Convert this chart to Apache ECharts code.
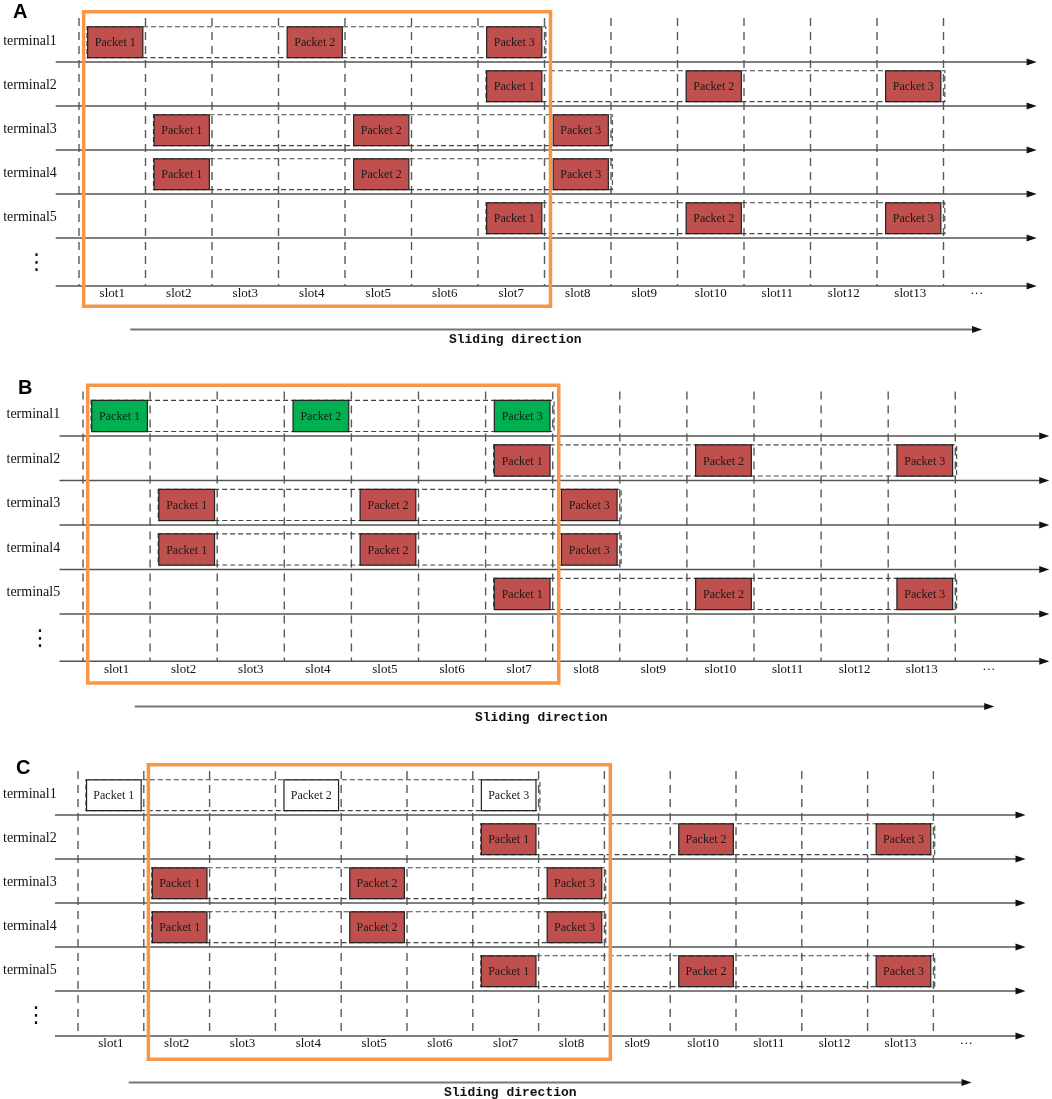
<!DOCTYPE html>
<html>
<head>
<meta charset="utf-8">
<title>Sliding window over slots</title>
<script src="https://cdn.jsdelivr.net/npm/echarts@6/dist/echarts.min.js"></script>
<style>
  html, body { margin: 0; padding: 0; background: #fff; }
  #chart { width: 1052px; height: 1099px; }
</style>
</head>
<body>
<div id="chart"></div>
<script>
// tick labels under the slot axis (last one is the "more" mark)
const slotLabels = ['slot1', 'slot2', 'slot3', 'slot4', 'slot5', 'slot6', 'slot7',
  'slot8', 'slot9', 'slot10', 'slot11', 'slot12', 'slot13', '···']
const terminals = ['terminal1', 'terminal2', 'terminal3', 'terminal4', 'terminal5']
const moreRows = '⋮'
// slot of Packet 1, Packet 2, Packet 3 for each terminal
const packetSlots = [
  [1, 4, 7],
  [7, 10, 13],
  [2, 5, 8],
  [2, 5, 8],
  [7, 10, 13]
]
const panelNames = ['A', 'B', 'C']
// sliding window: first and last slot it covers
const windowFirst = [1, 1, 2]
const windowLast = [7, 7, 8]
// fill of terminal1 packets in each panel, other terminals are red
const terminal1Fill = ['#c0504d', '#00b050', '#ffffff']
const packetFill = '#c0504d'
const slotBoundaries = [0, 1, 2, 3, 4, 5, 6, 7, 8, 9, 10, 11, 12, 13]
const rowLines = [1, 2, 3, 4, 5]
const slidingText = 'Sliding direction'

// panel layout: pixel of slot boundary 0 / top of row 1, px per slot / per row
const panels = [
  { x0: 79, ux: 66.5, y0: 18, uy: 44, top: 0, bottom: 350, axisY: 6.09, textX: 6.56, letter: [13, 2] },
  { x0: 83, ux: 67.1, y0: 391.5, uy: 44.5, top: 350, bottom: 735, axisY: 6.06, textX: 6.83, letter: [18, 378] },
  { x0: 78, ux: 65.8, y0: 771, uy: 44, top: 735, bottom: 1099, axisY: 6.02, textX: 6.57, letter: [16, 758] }
]

const serif = '"Liberation Serif", "DejaVu Serif", serif'

const chart = echarts.init(document.getElementById('chart'))

const grids = []
const xAxes = []
const yAxes = []
const series = []

const arrowHead = (tipX, y, color) => ({
  type: 'polygon',
  shape: { points: [[tipX, y], [tipX - 10, y - 3.5], [tipX - 10, y + 3.5]] },
  style: { fill: color }
})

panels.forEach((p, g) => {
  grids.push({ left: 0, top: p.top, width: 1052, height: p.bottom - p.top })
  xAxes.push({ type: 'value', gridIndex: g, min: -p.x0 / p.ux, max: (1052 - p.x0) / p.ux, show: false })
  yAxes.push({ type: 'value', gridIndex: g, inverse: true, min: (p.top - p.y0) / p.uy, max: (p.bottom - p.y0) / p.uy, show: false })

  const base = { type: 'custom', xAxisIndex: g, yAxisIndex: g, silent: true, animation: false }

  // dashed slot boundaries
  series.push({
    ...base,
    z: 1,
    data: slotBoundaries.map(k => [k, 0]),
    renderItem: (params, api) => {
      const a = api.coord([api.value(0), 0])
      const b = api.coord([api.value(0), p.axisY])
      return {
        type: 'line',
        shape: { x1: a[0], y1: a[1], x2: b[0], y2: b[1] },
        style: { stroke: '#5a5a5a', lineWidth: 1.4, lineDash: [8, 6] }
      }
    }
  })

  // row separators and slot axis, all with arrows
  series.push({
    ...base,
    z: 2,
    data: rowLines.concat([p.axisY]).map(y => [-0.35, y]),
    renderItem: (params, api) => {
      const a = api.coord([api.value(0), api.value(1)])
      const b = api.coord([14.4, api.value(1)])
      return {
        type: 'group',
        children: [
          { type: 'line', shape: { x1: a[0], y1: a[1], x2: b[0] - 6, y2: b[1] }, style: { stroke: '#555', lineWidth: 1.5 } },
          arrowHead(b[0], b[1], '#111')
        ]
      }
    }
  })

  // dashed span from first to last packet of each terminal
  series.push({
    ...base,
    z: 3,
    data: packetSlots.map((s, i) => [s[0], i, s[s.length - 1]]),
    renderItem: (params, api) => {
      const row = api.value(1)
      const a = api.coord([api.value(0) - 1 + 0.12, row + 0.2])
      const b = api.coord([api.value(2) + 0.02, row + 0.9])
      return {
        type: 'rect',
        shape: { x: a[0], y: a[1], width: b[0] - a[0], height: b[1] - a[1] },
        style: { fill: 'none', stroke: '#444', lineWidth: 1.1, lineDash: [5, 3] }
      }
    }
  })

  // packets
  const packets = []
  packetSlots.forEach((s, i) => s.forEach((slot, j) => packets.push([slot, i, j + 1])))
  series.push({
    ...base,
    z: 4,
    data: packets,
    renderItem: (params, api) => {
      const row = api.value(1)
      const a = api.coord([api.value(0) - 1 + 0.13, row + 0.2])
      const b = api.coord([api.value(0) - 0.04, row + 0.9])
      const fill = row === 0 ? terminal1Fill[g] : packetFill
      return {
        type: 'group',
        children: [
          {
            type: 'rect',
            shape: { x: a[0], y: a[1], width: b[0] - a[0], height: b[1] - a[1] },
            style: { fill: fill, stroke: '#222', lineWidth: 1.2 }
          },
          {
            type: 'text',
            style: {
              text: 'Packet ' + api.value(2),
              x: (a[0] + b[0]) / 2, y: (a[1] + b[1]) / 2 + 1,
              align: 'center', verticalAlign: 'middle',
              font: '12px ' + serif, fill: '#1a1a1a'
            }
          }
        ]
      }
    }
  })

  // terminal names on the left
  series.push({
    ...base,
    z: 5,
    data: terminals.map((t, i) => [-1.14, i + 0.52]),
    renderItem: (params, api) => {
      const a = api.coord([api.value(0), api.value(1)])
      return {
        type: 'text',
        style: { text: terminals[params.dataIndex], x: a[0], y: a[1], align: 'left', verticalAlign: 'middle', font: '14px ' + serif, fill: '#111' }
      }
    }
  })

  // "more terminals" mark
  series.push({
    ...base,
    z: 5,
    data: [[-0.64, 5.57]],
    renderItem: (params, api) => {
      const a = api.coord([api.value(0), api.value(1)])
      return {
        type: 'text',
        style: { text: moreRows, x: a[0], y: a[1], align: 'center', verticalAlign: 'middle', font: '22px "DejaVu Sans", sans-serif', fill: '#111' }
      }
    }
  })

  // slot tick labels
  series.push({
    ...base,
    z: 5,
    data: slotLabels.map((s, i) => [i + 0.5, p.axisY]),
    renderItem: (params, api) => {
      const a = api.coord([api.value(0), api.value(1)])
      return {
        type: 'text',
        style: { text: slotLabels[params.dataIndex], x: a[0], y: a[1] + 8, align: 'center', verticalAlign: 'middle', font: '13px ' + serif, fill: '#111' }
      }
    }
  })

  // sliding window
  series.push({
    ...base,
    z: 6,
    data: [[windowFirst[g] - 1 + 0.07, -0.14, windowLast[g] + 0.09, 6.55]],
    renderItem: (params, api) => {
      const a = api.coord([api.value(0), api.value(1)])
      const b = api.coord([api.value(2), api.value(3)])
      return {
        type: 'rect',
        shape: { x: a[0], y: a[1], width: b[0] - a[0], height: b[1] - a[1] },
        style: { fill: 'none', stroke: '#f79646', lineWidth: 3.5 }
      }
    }
  })

  // sliding direction arrow and caption
  series.push({
    ...base,
    z: 6,
    data: [[0.77, 7.08, 13.58]],
    renderItem: (params, api) => {
      const a = api.coord([api.value(0), api.value(1)])
      const b = api.coord([api.value(2), api.value(1)])
      const t = api.coord([p.textX, api.value(1) + 0.24])
      return {
        type: 'group',
        children: [
          { type: 'line', shape: { x1: a[0], y1: a[1], x2: b[0] - 6, y2: b[1] }, style: { stroke: '#777', lineWidth: 2 } },
          arrowHead(b[0], b[1], '#111'),
          {
            type: 'text',
            style: { text: slidingText, x: t[0], y: t[1], align: 'center', verticalAlign: 'middle', font: 'bold 13px "Liberation Mono", "DejaVu Sans Mono", monospace', fill: '#111' }
          }
        ]
      }
    }
  })
})

chart.setOption({
  animation: false,
  title: panels.map((p, g) => ({
    text: panelNames[g],
    left: p.letter[0],
    top: p.letter[1],
    padding: 0,
    textStyle: { fontFamily: '"Liberation Sans", Arial, sans-serif', fontWeight: 'bold', fontSize: 20, color: '#000' }
  })),
  grid: grids,
  xAxis: xAxes,
  yAxis: yAxes,
  series: series
})
</script>
</body>
</html>
